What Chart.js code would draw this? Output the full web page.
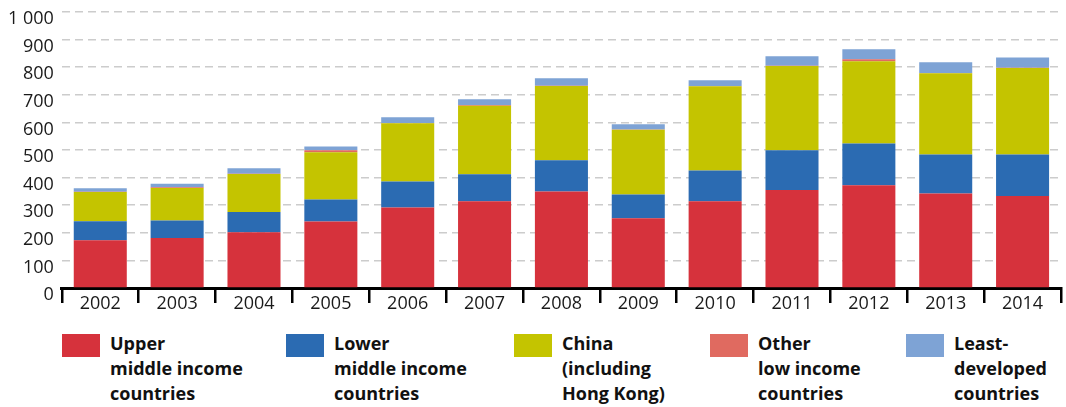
<!DOCTYPE html>
<html>
<head>
<meta charset="utf-8">
<script src="https://cdn.jsdelivr.net/npm/chart.js@4.4.1/dist/chart.umd.min.js"></script>
<style>
  body { margin: 0; background: #fff; overflow: hidden; }
  #wrap { position: relative; width: 1066px; height: 320px; }
  #legend { position: absolute; top: 320px; left: 0; width: 1066px; height: 87px; font-family: "Open Sans", sans-serif; }
  .item { position: absolute; top: 14px; display: flex; }
  .box { width: 38px; height: 23px; margin-right: 10px; }
  .txt { font-weight: 700; font-size: 18px; line-height: 25px; color: #111; margin-top: -3px; }
</style>
</head>
<body>
<div id="wrap"><canvas id="chart"></canvas></div>
<div id="legend"></div>
<script>
// Annees et series
const years = ['2002', '2003', '2004', '2005', '2006', '2007', '2008', '2009', '2010', '2011', '2012', '2013', '2014'];
const upperMiddle = [173, 181, 202, 241, 292, 314, 350, 253, 314, 355, 372, 342, 333];
const lowerMiddle = [69, 64, 73, 80, 94, 98, 113, 86, 112, 144, 152, 142, 151];
const china = [106, 117, 138, 171, 211, 248, 269, 234, 305, 305, 298, 294, 313];
const otherLow = [1, 3, 1, 7, 1, 3, 1, 1, 1, 1, 7, 1, 1];
const leastDeveloped = [12, 13, 20, 14, 21, 21, 27, 19, 21, 35, 36, 39, 37];

const seriesNames = [
    ['Upper', 'middle income', 'countries'],
    ['Lower', 'middle income', 'countries'],
    ['China', '(including', 'Hong Kong)'],
    ['Other', 'low income', 'countries'],
    ['Least-', 'developed', 'countries']
];
const colors = ['#d6323c', '#2b6bb2', '#c4c400', '#e06a60', '#7ea3d5'];
const seriesData = [upperMiddle, lowerMiddle, china, otherLow, leastDeveloped];
const legendLeft = [62, 286, 514, 710, 906];

// legende en html (libelles sur plusieurs lignes)
const legend = document.getElementById('legend');
seriesNames.forEach((lines, i) => {
    const item = document.createElement('div');
    item.className = 'item';
    item.style.left = legendLeft[i] + 'px';
    const box = document.createElement('div');
    box.className = 'box';
    box.style.background = colors[i];
    const txt = document.createElement('div');
    txt.className = 'txt';
    txt.innerHTML = lines.join('<br>');
    item.appendChild(box);
    item.appendChild(txt);
    legend.appendChild(item);
});

const chart = new Chart(document.getElementById('chart'), {
    type: 'bar',
    data: {
        labels: years,
        datasets: seriesData.map((d, i) => ({
            label: seriesNames[i].join(' '),
            data: d,
            backgroundColor: colors[i],
            borderWidth: 0,
            barPercentage: 0.69,
            categoryPercentage: 1.0
        }))
    },
    options: {
        responsive: true,
        maintainAspectRatio: false,
        animation: false,
        layout: { padding: { top: 12, right: 5, left: 0, bottom: 0 } },
        plugins: {
            legend: { display: false },
            tooltip: { enabled: false }
        },
        scales: {
            x: {
                stacked: true,
                border: { color: '#000', width: 3 },
                grid: {
                    drawOnChartArea: false,
                    drawTicks: true,
                    tickLength: 15,
                    color: '#000',
                    lineWidth: 2.5
                },
                ticks: {
                    color: '#1a1a1a',
                    padding: -10,
                    font: { family: 'Open Sans', size: 18 }
                },
                afterFit: function (scale) {
                    scale.height = 32;
                }
            },
            y: {
                stacked: true,
                min: 0,
                max: 1000,
                grid: {
                    drawTicks: false,
                    color: '#cccccc',
                    lineWidth: 1.5
                },
                border: { display: false, dash: [8, 5] },
                ticks: {
                    stepSize: 100,
                    padding: 8,
                    labelOffset: 7,
                    color: '#1a1a1a',
                    font: { family: 'Open Sans', size: 18 },
                    callback: function (value) {
                        return String(value).replace(/\B(?=(\d{3})+(?!\d))/g, ' ');
                    }
                },
                afterFit: function (scale) {
                    scale.paddingTop = 0;
                    scale.paddingBottom = 0;
                }
            }
        }
    }
});
</script>
</body>
</html>
